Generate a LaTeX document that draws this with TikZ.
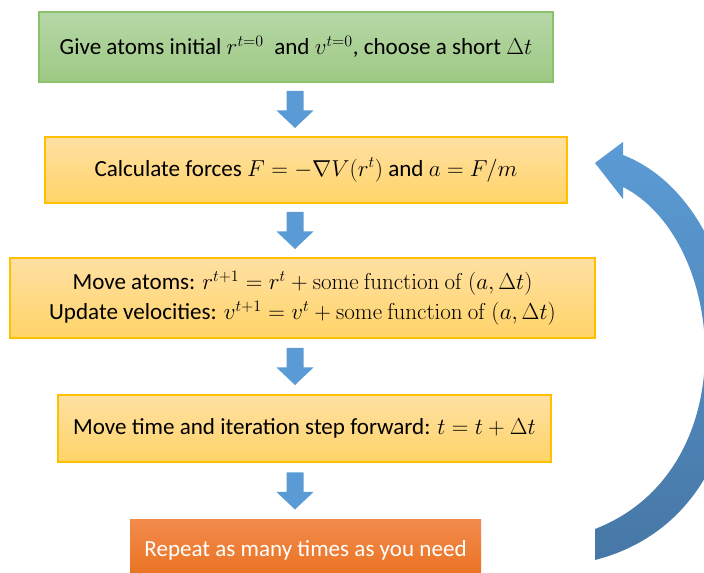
\documentclass[tikz,border=0pt]{standalone}
\usepackage[no-math]{fontspec}
\setmainfont{Carlito}
\usetikzlibrary{calc}
\definecolor{arrowblue}{HTML}{5B9BD5}
\definecolor{arrowdark}{HTML}{4677A6}
\definecolor{greentop}{HTML}{B6D7A7}
\definecolor{greenbot}{HTML}{9EC984}
\definecolor{greenline}{HTML}{8CC26B}
\definecolor{goldtop}{HTML}{FFE0A3}
\definecolor{goldbot}{HTML}{FFD468}
\definecolor{goldline}{HTML}{FFC000}
\definecolor{orangetop}{HTML}{F38B4C}
\definecolor{orangebot}{HTML}{E8701E}
\tikzset{
  stepbox/.style={rectangle, inner sep=0pt, font=\fontsize{17.3}{22.5}\selectfont, align=center, text=black, line width=0.9pt},
  greenbox/.style={stepbox, top color=greentop, bottom color=greenbot, draw=greenline},
  goldbox/.style={stepbox, top color=goldtop, bottom color=goldbot, draw=goldline},
  orangebox/.style={stepbox, top color=orangetop, bottom color=orangebot, draw=none, text=white},
  blockfill/.style={fill=arrowblue},
}
\newcommand{\blockdown}[2]{%
  \coordinate (m) at ($(#1.south)!0.5!(#2.north)$);
  \path[blockfill] (axis |- m) ++(-8.5,-18.5) -- ++(17,0) -- ++(0,19.5) -- ++(10,0)
     -- ++(-18.5,17.5) -- ++(-18.5,-17.5) -- ++(10,0) -- cycle;
}
\begin{document}
\begin{tikzpicture}[x=0.75pt,y=-0.75pt]
\useasboundingbox (0,0) rectangle (704,573);
\clip (0,0) rectangle (704,573);
\coordinate (axis) at (295,0);

\node[greenbox, minimum width=385.5pt, minimum height=52.5pt] (b1) at (296,47)
  {Give atoms initial $r^{t=0}$\ \ and $v^{t=0}$, choose a short $\Delta t$};
\node[goldbox, minimum width=391.5pt, minimum height=49.5pt] (b2) at (306,170)
  {Calculate forces $F=-\nabla V(r^t)$ and $a=F/m$};
\node[goldbox, minimum width=438.75pt, minimum height=60pt] (b3) at (302.5,298)
  {Move atoms: $r^{t+1}=r^t+\mathrm{some\ function\ of}\ (a,\Delta t)$\\
   Update velocities: $v^{t+1}=v^t+\mathrm{some\ function\ of}\ (a,\Delta t)$};
\node[goldbox, minimum width=369.75pt, minimum height=50.25pt] (b4) at (304.5,428.5)
  {Move time and iteration step forward: $t=t+\Delta t$};
\node[orangebox, minimum width=263.25pt, minimum height=45pt] (b5) at (305.5,550)
  {Repeat as many times as you need};

\blockdown{b1}{b2}
\blockdown{b2}{b3}
\blockdown{b3}{b4}
\blockdown{b4}{b5}

% curved return arrow
\coordinate (headtip) at (595,163);
\coordinate (tailout) at (595,560);
\coordinate (tailin) at (595,529);
\shade[top color=arrowblue, middle color=arrowblue, bottom color=arrowdark]
  (623,155) .. controls (765,210) and (790,510) .. (tailout)
  -- (tailin) .. controls (747,470) and (727,240) .. (623,187)
  -- (623,199) -- (headtip) -- (623,142) -- cycle;
\end{tikzpicture}
\end{document}
